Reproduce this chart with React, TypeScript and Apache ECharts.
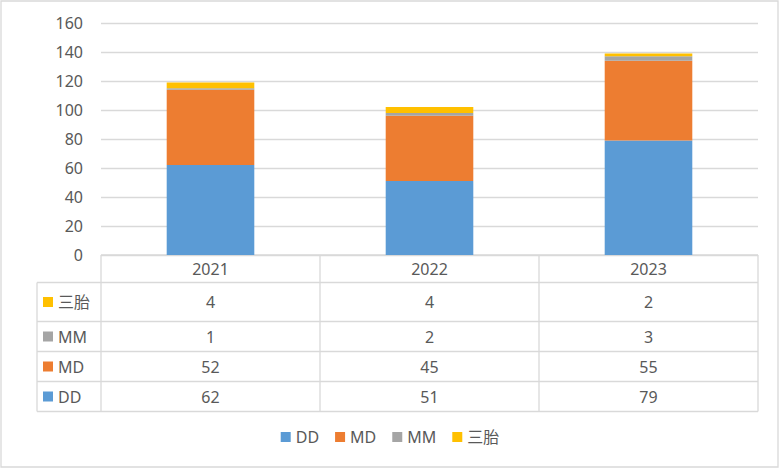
import React, { useEffect, useRef } from "react";
import * as echarts from "echarts";

const categories = ["2021", "2022", "2023"];
const seriesNames = ["DD", "MD", "MM", "三胎"];
const ddValues = [62, 51, 79];
const mdValues = [52, 45, 55];
const mmValues = [1, 2, 3];
const triValues = [4, 4, 2];
const yTicks = { min: 0, max: 160, interval: 20 };

const colors = ["#5B9BD5", "#ED7D31", "#A5A5A5", "#FFC000"];
const FONT = "'Noto Sans', 'Noto Sans CJK SC', sans-serif";
const TXT = "#595959";
const LINE = "#D9D9D9";

export default function App() {
  const ref = useRef<HTMLDivElement>(null);
  useEffect(() => {
    document.body.style.margin = "0";
    const chart = echarts.init(ref.current!, undefined, { renderer: "svg" });
    const values = [ddValues, mdValues, mmValues, triValues];

    const gridL = 101, gridR = 758, gridTop = 23, gridBottom = 255;
    const tableLeft = 37;
    const rowYs = [255, 282.5, 321.5, 351.5, 381.5, 411.5];
    const colW = (gridR - gridL) / categories.length;

    const g: any[] = [];
    const lineStyle = { stroke: LINE, lineWidth: 1.3 };
    // outer border
    g.push({ type: "rect", shape: { x: 1, y: 1, width: 777, height: 466 }, style: { fill: "none", stroke: LINE, lineWidth: 1.3 }, silent: true });
    // header top line
    g.push({ type: "line", shape: { x1: gridL, y1: rowYs[0], x2: gridR, y2: rowYs[0] }, style: lineStyle });
    for (let i = 1; i < rowYs.length; i++) {
      g.push({ type: "line", shape: { x1: tableLeft, y1: rowYs[i], x2: gridR, y2: rowYs[i] }, style: lineStyle });
    }
    for (let c = 0; c <= categories.length; c++) {
      const x = gridL + c * colW;
      g.push({ type: "line", shape: { x1: x, y1: rowYs[0], x2: x, y2: rowYs[rowYs.length - 1] }, style: lineStyle });
    }
    g.push({ type: "line", shape: { x1: tableLeft, y1: rowYs[1], x2: tableLeft, y2: rowYs[rowYs.length - 1] }, style: lineStyle });
    // header texts
    categories.forEach((cat, c) => {
      g.push({ type: "text", x: gridL + (c + 0.5) * colW, y: (rowYs[0] + rowYs[1]) / 2, style: { text: cat, font: `16px ${FONT}`, fill: TXT, align: "center", verticalAlign: "middle" } });
    });
    // rows: top to bottom = 三胎, MM, MD, DD
    const order = [3, 2, 1, 0];
    order.forEach((si, r) => {
      const cy = (rowYs[r + 1] + rowYs[r + 2]) / 2;
      g.push({ type: "rect", shape: { x: 43, y: cy - 5, width: 10, height: 10 }, style: { fill: colors[si] } });
      g.push({ type: "text", x: 58, y: cy, style: { text: seriesNames[si], font: `16px ${FONT}`, fill: TXT, align: "left", verticalAlign: "middle" } });
      values[si].forEach((v, c) => {
        g.push({ type: "text", x: gridL + (c + 0.5) * colW, y: cy, style: { text: String(v), font: `16px ${FONT}`, fill: TXT, align: "center", verticalAlign: "middle" } });
      });
    });

    chart.setOption({
      animation: false,
      color: colors,
      textStyle: { fontFamily: FONT },
      grid: { left: gridL, right: 780 - gridR, top: gridTop, bottom: 470 - gridBottom, containLabel: false },
      legend: {
        bottom: 20,
        left: "center",
        itemWidth: 10,
        itemHeight: 10,
        itemGap: 16,
        icon: "rect",
        textStyle: { fontSize: 16, color: TXT, fontFamily: FONT },
        data: seriesNames,
      },
      xAxis: {
        type: "category",
        data: categories,
        axisLine: { show: false },
        axisTick: { show: false },
        axisLabel: { show: false },
      },
      yAxis: {
        type: "value",
        min: yTicks.min,
        max: yTicks.max,
        interval: yTicks.interval,
        axisLine: { show: false },
        axisTick: { show: false },
        axisLabel: { fontSize: 16, color: TXT, margin: 18, fontFamily: FONT },
        splitLine: { lineStyle: { color: LINE, width: 1.3 } },
      },
      series: seriesNames.map((name, i) => ({
        name,
        type: "bar",
        stack: "total",
        barWidth: "40%",
        data: values[i],
        itemStyle: { color: colors[i] },
      })),
      graphic: g,
    });
    return () => chart.dispose();
  }, []);
  return <div ref={ref} style={{ width: 780, height: 470 }} />;
}
